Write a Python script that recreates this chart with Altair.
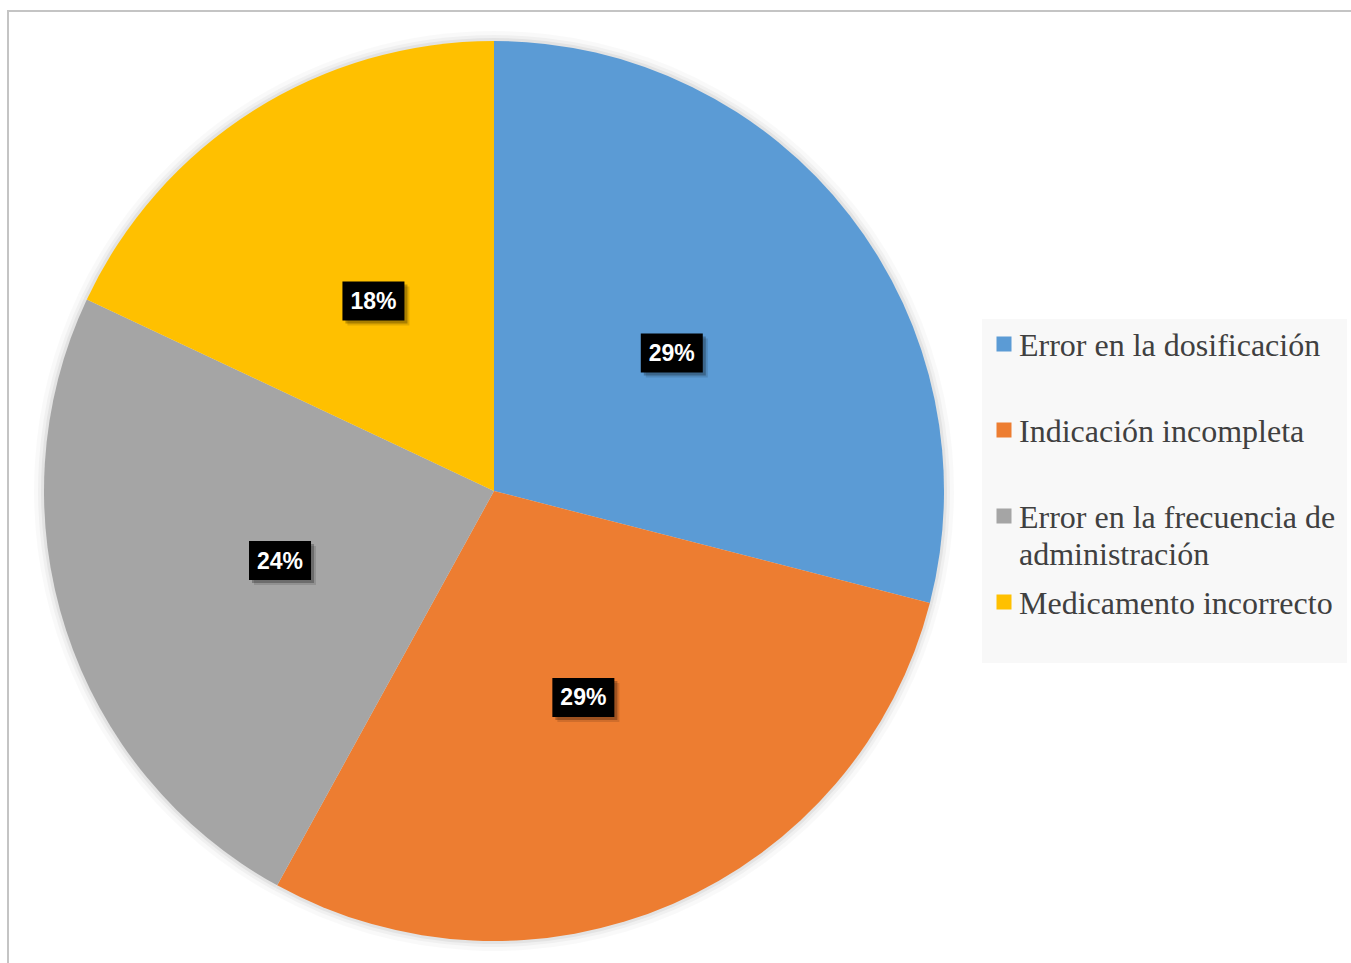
import altair as alt
import numpy as np
import pandas as pd

categories = ["Error en la dosificación", "Indicación incompleta",
              "Error en la frecuencia de administración", "Medicamento incorrecto"]
percent = [29, 29, 24, 18]
label_text = ["29%", "29%", "24%", "18%"]
legend_text = ["Error en la dosificación", "Indicación incompleta",
               "Error en la frecuencia de\nadministración", "Medicamento incorrecto"]
colors = ["#5B9BD5", "#ED7D31", "#A5A5A5", "#FFC000"]

CX, CY, R = 494, 491, 450

df = pd.DataFrame({"cat": categories, "value": percent, "idx": range(len(percent)),
                   "label": label_text, "legend": legend_text})
vals = np.array(percent, dtype=float)
cum = np.cumsum(vals)
mid = (cum - vals / 2) / vals.sum() * 2 * np.pi
df["lx"] = CX + 0.5 * R * np.sin(mid)
df["ly"] = CY - 0.5 * R * np.cos(mid)
BW, BH = 62, 39
df["bx1"] = df["lx"] - BW / 2
df["bx2"] = df["lx"] + BW / 2
df["by1"] = df["ly"] - BH / 2
df["by2"] = df["ly"] + BH / 2
for k, off in (("s1", 3), ("s2", 5)):
    df[k + "x1"] = df["bx1"] + off
    df[k + "x2"] = df["bx2"] + off
    df[k + "y1"] = df["by1"] + off
    df[k + "y2"] = df["by2"] + off
# legend layout
df["sqx"] = 1004
df["sqy"] = 344 + 86 * df["idx"]
df["tx"] = 1019
df["ty"] = 356 + 86 * df["idx"]

color_scale = alt.Scale(domain=categories, range=colors)
base = alt.Chart(df)

one = alt.Chart(pd.DataFrame({"a": [0]}))
border_left = one.mark_rule(color="#c4c4c4", strokeWidth=2).encode(
    x=alt.value(8), y=alt.value(11), y2=alt.value(963))
border_top = one.mark_rule(color="#c4c4c4", strokeWidth=2).encode(
    x=alt.value(7), x2=alt.value(1351), y=alt.value(11))

glows = []
for rr, op in ((460, 0.025), (456, 0.035), (453, 0.05)):
    glows.append(base.mark_arc(radius=rr, color="#000000", opacity=op).encode(
        theta=alt.Theta("value:Q", stack=True),
        order=alt.Order("idx:Q"),
        x=alt.value(CX), y=alt.value(CY)))

pie = base.mark_arc(radius=R).encode(
    theta=alt.Theta("value:Q", stack=True),
    color=alt.Color("cat:N", scale=color_scale, legend=None),
    order=alt.Order("idx:Q"),
    x=alt.value(CX), y=alt.value(CY))

shadow2 = base.mark_rect(color="#000000", opacity=0.12).encode(
    x=alt.X("s2x1:Q", scale=None, axis=None), x2="s2x2:Q",
    y=alt.Y("s2y1:Q", scale=None, axis=None), y2="s2y2:Q")
shadow1 = base.mark_rect(color="#000000", opacity=0.25).encode(
    x=alt.X("s1x1:Q", scale=None, axis=None), x2="s1x2:Q",
    y=alt.Y("s1y1:Q", scale=None, axis=None), y2="s1y2:Q")
boxes = base.mark_rect(color="#000000").encode(
    x=alt.X("bx1:Q", scale=None, axis=None), x2="bx2:Q",
    y=alt.Y("by1:Q", scale=None, axis=None), y2="by2:Q")
labels = base.mark_text(color="#ffffff", font="Liberation Sans", fontWeight="bold",
                        fontSize=23, align="center", baseline="middle", dy=1).encode(
    x=alt.X("lx:Q", scale=None, axis=None),
    y=alt.Y("ly:Q", scale=None, axis=None),
    text="label:N")

legend_bg = one.mark_rect(color="#f8f8f8").encode(
    x=alt.value(982), x2=alt.value(1347), y=alt.value(319), y2=alt.value(663))
legend_sq = base.mark_point(shape="square", filled=True, size=225, opacity=1).encode(
    x=alt.X("sqx:Q", scale=None, axis=None),
    y=alt.Y("sqy:Q", scale=None, axis=None),
    color=alt.Color("cat:N", scale=color_scale, legend=None))
legend_tx = base.mark_text(font="Liberation Serif", fontSize=32, color="#404040",
                           align="left", baseline="alphabetic", lineBreak="\n",
                           lineHeight=37).encode(
    x=alt.X("tx:Q", scale=None, axis=None),
    y=alt.Y("ty:Q", scale=None, axis=None),
    text="legend:N")

chart = alt.layer(
    border_left, border_top, *glows, pie, shadow2, shadow1, boxes, labels,
    legend_bg, legend_sq, legend_tx
).properties(
    width=1351, height=963, padding=0,
    autosize=alt.AutoSizeParams(type="none"),
    background="#ffffff"
).configure_view(stroke=None)

chart.save("out.html", embed_options={"renderer": "svg", "actions": False})
